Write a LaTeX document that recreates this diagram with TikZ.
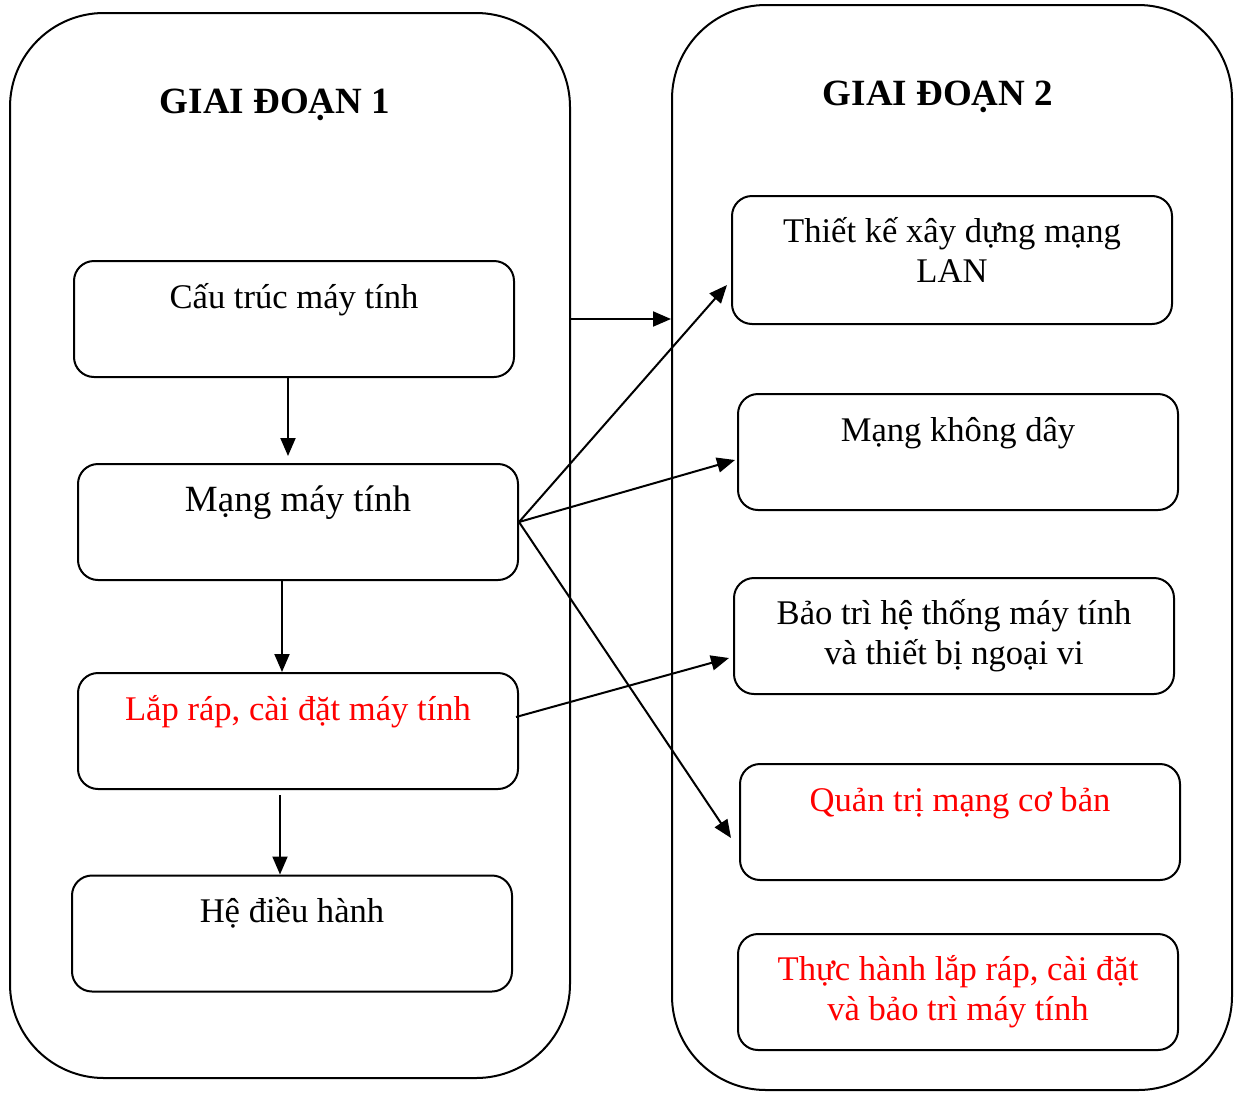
\documentclass[tikz,border=0pt]{standalone}
\usepackage{fontspec}
\setmainfont{Liberation Serif}
\usetikzlibrary{arrows.meta,positioning,calc}
\tikzset{
  phase/.style={draw,line width=1pt,rounded corners=47pt,minimum width=280pt},
  box/.style={draw,line width=1pt,rounded corners=10pt,minimum width=220pt,minimum height=58pt},
  txt/.style={anchor=base,inner sep=0pt,align=center,font=\fontsize{17.3}{20}\selectfont},
  title/.style={anchor=base,inner sep=0pt,font=\fontsize{18.5}{22}\selectfont\bfseries},
}
\begin{document}
\begin{tikzpicture}[x=0.5pt,y=-0.5pt,>={Triangle[length=9pt,width=7.5pt]},line width=1pt]
\useasboundingbox (0,0) rectangle (1235,1092);
% the two phases
\node[phase,minimum height=532.5pt] (left) at (290,545.5) {};
\node[phase,minimum height=542.5pt] (right) at (952,547.5) {};
\node[title] (t1) at (275,113) {GIAI ĐOẠN 1};
\node[title] (t2) at (938,105) {GIAI ĐOẠN 2};

% phase 1
\node[box] (b1) at (294,319) {};
\node[box] (b2) at (298,522) {};
\node[box] (b3) at (298,731) {};
\node[box] (b4) at (292,933.5) {};
\node[txt] at ($(b1.north)+(0,48)$) {Cấu trúc máy tính};
\node[txt,font=\fontsize{18.5}{22}\selectfont] at ($(b2.north)+(0,48)$) {Mạng máy tính};
\node[txt,red] at ($(b3.north)+(0,48)$) {Lắp ráp, cài đặt máy tính};
\node[txt] at ($(b4.north)+(0,48)$) {Hệ điều hành};

% phase 2
\node[box,minimum height=64pt] (r1) at (952,260) {};
\node[box] (r2) at (958,452) {};
\node[box] (r3) at (954,636) {};
\node[box] (r4) at (960,822) {};
\node[box] (r5) at (958,992) {};
\node[txt] at ($(r1.north)+(0,87)$) {Thiết kế xây dựng mạng\\LAN};
\node[txt] at ($(r2.north)+(0,48)$) {Mạng không dây};
\node[txt] at ($(r3.north)+(0,87)$) {Bảo trì hệ thống máy tính\\và thiết bị ngoại vi};
\node[txt,red] at ($(r4.north)+(0,48)$) {Quản trị mạng cơ bản};
\node[txt,red] at ($(r5.north)+(0,87)$) {Thực hành lắp ráp, cài đặt\\và bảo trì máy tính};

% arrows
\draw[->] ($(b1.south)+(-6,0)$) -- ($(b1.south |- b2.north)+(-6,-7)$);
\draw[->] ($(b2.south)+(-16,0)$) -- ($(b2.south |- b3.north)+(-16,0)$);
\draw[->] ($(b3.south)+(-18,5)$) -- ($(b3.south |- b4.north)+(-18,0)$);
\draw[->] (left.east |- b1.center) -- (right.west |- b1.center);
\draw[->] (b2.east) -- ([xshift=-2pt,yshift=-12.5pt]r1.west);
\draw[->] (b2.east) -- ([xshift=-1pt,yshift=-4pt]r2.west);
\draw[->] (b2.east) -- ([xshift=-4pt,yshift=-8pt]r4.west);
\draw[->] ([xshift=-1.5pt,yshift=7pt]b3.east) -- ([xshift=-2pt,yshift=-11pt]r3.west);
\end{tikzpicture}
\end{document}
